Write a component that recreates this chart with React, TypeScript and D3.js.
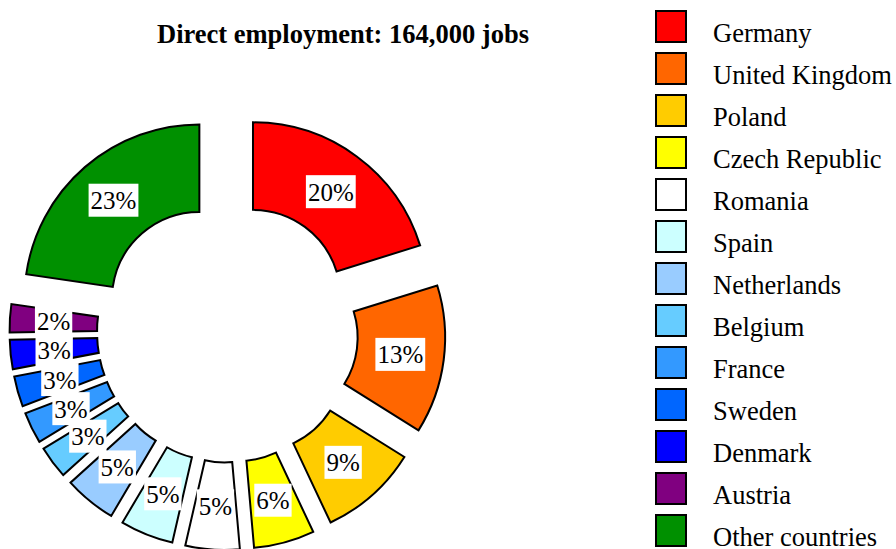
import React from "react";
import * as d3 from "d3";

const countries = [
  "Germany", "United Kingdom", "Poland", "Czech Republic", "Romania", "Spain",
  "Netherlands", "Belgium", "France", "Sweden", "Denmark", "Austria", "Other countries",
];
const shares = [20.2, 13.7, 9.1, 5.6, 5.0, 4.9, 4.8, 3.0, 2.9, 2.8, 2.7, 2.6, 22.7];
const labels = ["20%", "13%", "9%", "6%", "5%", "5%", "5%", "3%", "3%", "3%", "3%", "2%", "23%"];
const colors = [
  "#FF0000", "#FF6600", "#FFCC00", "#FFFF00", "#FFFFFF", "#CCFFFF",
  "#99CCFF", "#66CCFF", "#3399FF", "#0066FF", "#0000FF", "#800080", "#009000",
];
const title = "Direct employment: 164,000 jobs";

const W = 896, H = 549;
const CX = 227.5, CY = 332, R_OUT = 175, R_IN = 87.5, EXPLODE = 43;
const FONT = "'Liberation Serif', 'Times New Roman', serif";

function measure(text: string, font: string): number {
  const c = document.createElement("canvas").getContext("2d");
  if (!c) return text.length * 12;
  c.font = font;
  return c.measureText(text).width;
}

export default function App() {
  const pie = d3.pie<number>().sort(null).startAngle(0).endAngle(2 * Math.PI)(shares);
  const arc = d3.arc<d3.PieArcDatum<number>>().innerRadius(R_IN).outerRadius(R_OUT);
  const legendY = d3.scaleLinear().domain([0, 1]).range([11, 53]);

  return (
    <svg width={W} height={H} style={{ position: "absolute", left: 0, top: 0 }}>
      <rect width={W} height={H} fill="#fff" />
      <text x={343} y={43} textAnchor="middle" fontFamily={FONT} fontWeight="bold" fontSize={26.5}>
        {title}
      </text>
      {pie.map((p, i) => {
        const mid = (p.startAngle + p.endAngle) / 2;
        const dx = Math.sin(mid) * EXPLODE, dy = -Math.cos(mid) * EXPLODE;
        return (
          <path key={i} d={arc(p) || ""} transform={`translate(${CX + dx},${CY + dy})`}
            fill={colors[i]} stroke="#000" strokeWidth={2} strokeLinejoin="miter" />
        );
      })}
      {pie.map((p, i) => {
        const mid = (p.startAngle + p.endAngle) / 2;
        const dx = Math.sin(mid) * EXPLODE, dy = -Math.cos(mid) * EXPLODE;
        const [lx, ly] = arc.centroid(p);
        const x = CX + dx + lx, y = CY + dy + ly;
        const w = measure(labels[i], `25px ${FONT}`) + 4;
        return (
          <g key={"l" + i}>
            <rect x={x - w / 2} y={y - 16.5} width={w} height={33} fill="#fff" />
            <text x={x} y={y + 9} textAnchor="middle" fontFamily={FONT} fontSize={25}>{labels[i]}</text>
          </g>
        );
      })}
      {countries.map((c, i) => (
        <g key={"lg" + i}>
          <rect x={656} y={legendY(i)} width={30} height={31} fill={colors[i]} stroke="#000" strokeWidth={2} />
          <text x={713} y={legendY(i) + 31} fontFamily={FONT} fontSize={26.5}>{c}</text>
        </g>
      ))}
    </svg>
  );
}
